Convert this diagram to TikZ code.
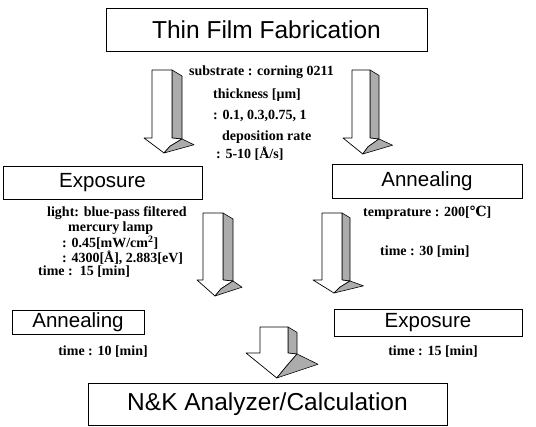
\documentclass[tikz,border=0pt]{standalone}
\usepackage{fontspec}
\setmainfont{Liberation Serif}
\newfontfamily\arialf{Liberation Sans}
\newfontfamily\dvs{DejaVu Serif}
\tikzset{
 box/.style={draw, line width=0.8pt, inner sep=0pt},
 bigt/.style={font=\arialf\fontsize{24.5}{28}\selectfont},
 midt/.style={font=\arialf\fontsize{20.5}{24}\selectfont},
 note/.style={font=\bfseries\fontsize{14}{15}\selectfont, inner sep=0pt},
 shadeface/.style={fill=gray!65, draw, line width=0.6pt, line join=round},
 whiteface/.style={fill=white, draw, line width=0.7pt, line join=round}
}
% x0, top, yL, shaft width, depth, wing, head height
\newcommand{\tdarrow}[7]{%
 \draw[shadeface] ({#1+#4},#2) -- ({#1+#4+#5},{#2+0.6*#5}) -- ({#1+#4+#5},{#3+1}) -- ({#1+#4},#3) -- cycle;
 \draw[whiteface] (#1,#2) -- ({#1+#4},#2) -- ({#1+#4},#3) -- ({#1+#4+#5},{#3+1}) -- ({#1+#4-2},{#3+0.55*#7}) -- ({#1+0.6*#4},{#3+#7}) -- ({#1-#6},#3) -- (#1,#3) -- cycle;
 \draw[shadeface] ({#1+0.6*#4},{#3+#7}) -- ({#1+#4-2},{#3+0.55*#7}) -- ({#1+#4+#5},{#3+1}) -- ({#1+#4+#5+1.5*#6},{#3+0.45*#7}) -- cycle;
}
\begin{document}
\begin{tikzpicture}[x=1pt,y=-1pt]
\useasboundingbox (0,0) rectangle (536,427);
% boxes
\node[box, bigt, minimum width=321pt, minimum height=43pt] (tff) at (266.5,29.5) {Thin Film Fabrication};
\node[box, midt, minimum width=199pt, minimum height=33pt] (exp1) at (102.5,182.5) {Exposure};
\node[box, midt, minimum width=190pt, minimum height=34pt] (ann1) at (427,181) {Annealing};
\node[box, midt, minimum width=132pt, minimum height=24pt] (ann2) at (78,322) {Annealing};
\node[box, midt, minimum width=188pt, minimum height=27pt] (exp2) at (428,322.5) {Exposure};
\node[box, bigt, minimum width=359pt, minimum height=42pt] (nk) at (267.5,404) {N\&K Analyzer/Calculation};
% arrows
\tdarrow{152}{70}{138}{20}{10}{8}{15}
\tdarrow{352}{70}{138}{18}{9}{9}{16}
\tdarrow{203}{213}{280}{20}{10}{6}{16}
\tdarrow{322}{213}{280}{20}{8}{9}{13}
\tdarrow{260}{327}{353}{28}{9}{14}{25}
% notes, top
\node[note, anchor=west] (n1) at (189,72) {substrate : corning 0211};
\node[note, anchor=west] (n2) at (213,95) {thickness [μm]};
\node[note, anchor=west] (n3) at (213,116) {: 0.1, 0.3,0.75, 1};
\node[note, anchor=west] (n4) at (222,137) {deposition rate};
\node[note, anchor=west] (n5) at (216,154) {: 5-10 [Å/s]};
% notes, left
\node[note, anchor=west] (l1) at (47,213) {light: blue-pass filtered};
\node[note, anchor=west] (l2) at (68,228) {mercury lamp};
\node[note, anchor=west] (l3) at (62,243) {: 0.45[mW/cm\textsuperscript{2}]};
\node[note, anchor=west] (l4) at (62,258) {: 4300[Å], 2.883[eV]};
\node[note, anchor=west] (l5) at (38,272) {time :\ \ 15 [min]};
% notes, right
\node[note, anchor=west] (r1) at (363,213) {temprature : 200[{\dvs\bfseries ℃}]};
\node[note, anchor=west] (r2) at (380,252) {time : 30 [min]};
% notes, bottom
\node[note] (b1) at (103,352) {time : 10 [min]};
\node[note] (b2) at (433,352) {time : 15 [min]};
\end{tikzpicture}
\end{document}
